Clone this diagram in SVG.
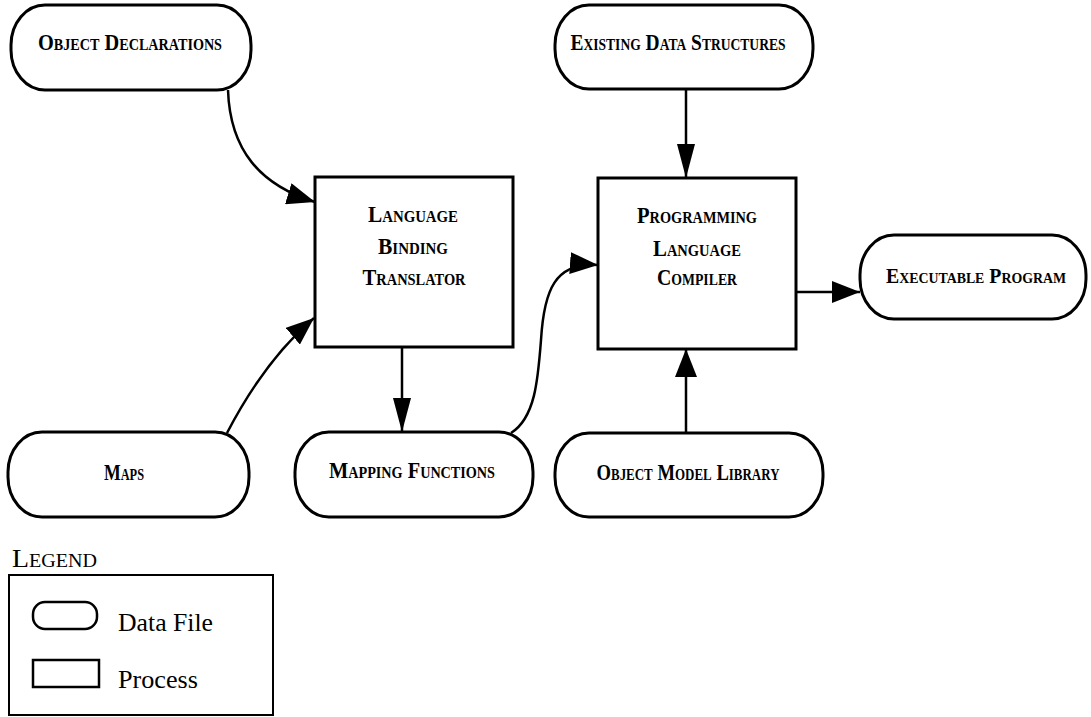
<svg xmlns="http://www.w3.org/2000/svg" width="1091" height="717" viewBox="0 0 1091 717">
  <style>
    .file { fill: #fff; stroke: #000; stroke-width: 3; }
    .proc { fill: #fff; stroke: #000; stroke-width: 3; }
    .lbl { font-family: "Liberation Serif", "DejaVu Serif", serif; font-weight: bold; font-variant: small-caps; font-size: 23px; fill: #000; text-anchor: middle; }
    .leg { font-family: "Liberation Serif", "DejaVu Serif", serif; font-size: 26px; fill: #000; }
    .wire { fill: none; stroke: #000; stroke-width: 2.5; }
  </style>
  <defs>
    <marker id="head" markerUnits="userSpaceOnUse" markerWidth="28" markerHeight="22" refX="28" refY="11" orient="auto">
      <path d="M0,0 L28,11 L0,22 z" fill="#000"/>
    </marker>
    <marker id="headLong" markerUnits="userSpaceOnUse" markerWidth="34" markerHeight="20" refX="34" refY="10" orient="auto">
      <path d="M0,1 L34,10 L0,19 z" fill="#000"/>
    </marker>
  </defs>

  <rect width="1091" height="717" fill="#fff"/>

  <!-- data files (rounded) and processes (boxes) -->
  <g id="object-declarations">
    <rect class="file" x="11" y="5" width="240" height="85" rx="34" ry="40"/>
    <text class="lbl" x="130" y="50" textLength="184" lengthAdjust="spacingAndGlyphs">Object Declarations</text>
  </g>

  <g id="existing-data-structures">
    <rect class="file" x="555" y="5" width="258" height="84" rx="34" ry="40"/>
    <text class="lbl" x="678" y="50" textLength="215" lengthAdjust="spacingAndGlyphs">Existing Data Structures</text>
  </g>

  <g id="language-binding-translator">
    <rect class="proc" x="315" y="177" width="198" height="170"/>
    <text class="lbl" x="413" y="222" textLength="90" lengthAdjust="spacingAndGlyphs">Language</text>
    <text class="lbl" x="413" y="254" textLength="70" lengthAdjust="spacingAndGlyphs">Binding</text>
    <text class="lbl" x="414" y="285" textLength="103" lengthAdjust="spacingAndGlyphs">Translator</text>
  </g>

  <g id="programming-language-compiler">
    <rect class="proc" x="598" y="178" width="198" height="171"/>
    <text class="lbl" x="697" y="223" textLength="120" lengthAdjust="spacingAndGlyphs">Programming</text>
    <text class="lbl" x="697" y="256" textLength="88" lengthAdjust="spacingAndGlyphs">Language</text>
    <text class="lbl" x="697" y="285" textLength="80" lengthAdjust="spacingAndGlyphs">Compiler</text>
  </g>

  <g id="executable-program">
    <rect class="file" x="860" y="235" width="226" height="84" rx="34" ry="40"/>
    <text class="lbl" x="976" y="283" style="font-size:20px" textLength="180" lengthAdjust="spacingAndGlyphs">Executable Program</text>
  </g>

  <g id="maps">
    <rect class="file" x="8" y="432" width="241" height="85" rx="34" ry="40"/>
    <text class="lbl" x="124" y="480" textLength="40" lengthAdjust="spacingAndGlyphs">Maps</text>
  </g>

  <g id="mapping-functions">
    <rect class="file" x="295" y="432" width="238" height="85" rx="34" ry="40"/>
    <text class="lbl" x="412" y="478" textLength="166" lengthAdjust="spacingAndGlyphs">Mapping Functions</text>
  </g>

  <g id="object-model-library">
    <rect class="file" x="555" y="433" width="268" height="84" rx="34" ry="40"/>
    <text class="lbl" x="688" y="480" textLength="183" lengthAdjust="spacingAndGlyphs">Object Model Library</text>
  </g>

  <!-- connectors -->
  <g id="connectors">
    <path class="wire" d="M228,90 C230,150 260,185 315,202" marker-end="url(#head)"/>
    <path class="wire" d="M227,433 Q265,360 314,318" marker-end="url(#head)"/>
    <path class="wire" d="M511,433 C535,418 538,380 541,340 C544,290 555,262 598,265" marker-end="url(#head)"/>
    <path class="wire" d="M686,89 L686,178" stroke-width="1.5" marker-end="url(#headLong)"/>
    <path class="wire" d="M402,347 L402,432" stroke-width="2" marker-end="url(#headLong)"/>
    <path class="wire" d="M686,433 L686,349" stroke-width="3" marker-end="url(#head)"/>
    <path class="wire" d="M796,292 L860,292" stroke-width="3.5" marker-end="url(#head)"/>
  </g>

  <!-- legend -->
  <g id="legend">
    <text class="lbl" x="12" y="567" style="text-anchor:start;font-weight:normal;font-size:25px" textLength="85" lengthAdjust="spacingAndGlyphs">Legend</text>
    <rect x="9" y="575" width="264" height="140" fill="none" stroke="#000" stroke-width="2"/>
    <rect x="33" y="602" width="64" height="27" rx="12" ry="12" fill="#fff" stroke="#000" stroke-width="2.5"/>
    <text class="leg" x="118" y="631" textLength="95" lengthAdjust="spacingAndGlyphs">Data File</text>
    <rect x="33" y="660" width="66" height="27" fill="#fff" stroke="#000" stroke-width="2.5"/>
    <text class="leg" x="118" y="688" textLength="80" lengthAdjust="spacingAndGlyphs">Process</text>
  </g>
</svg>
